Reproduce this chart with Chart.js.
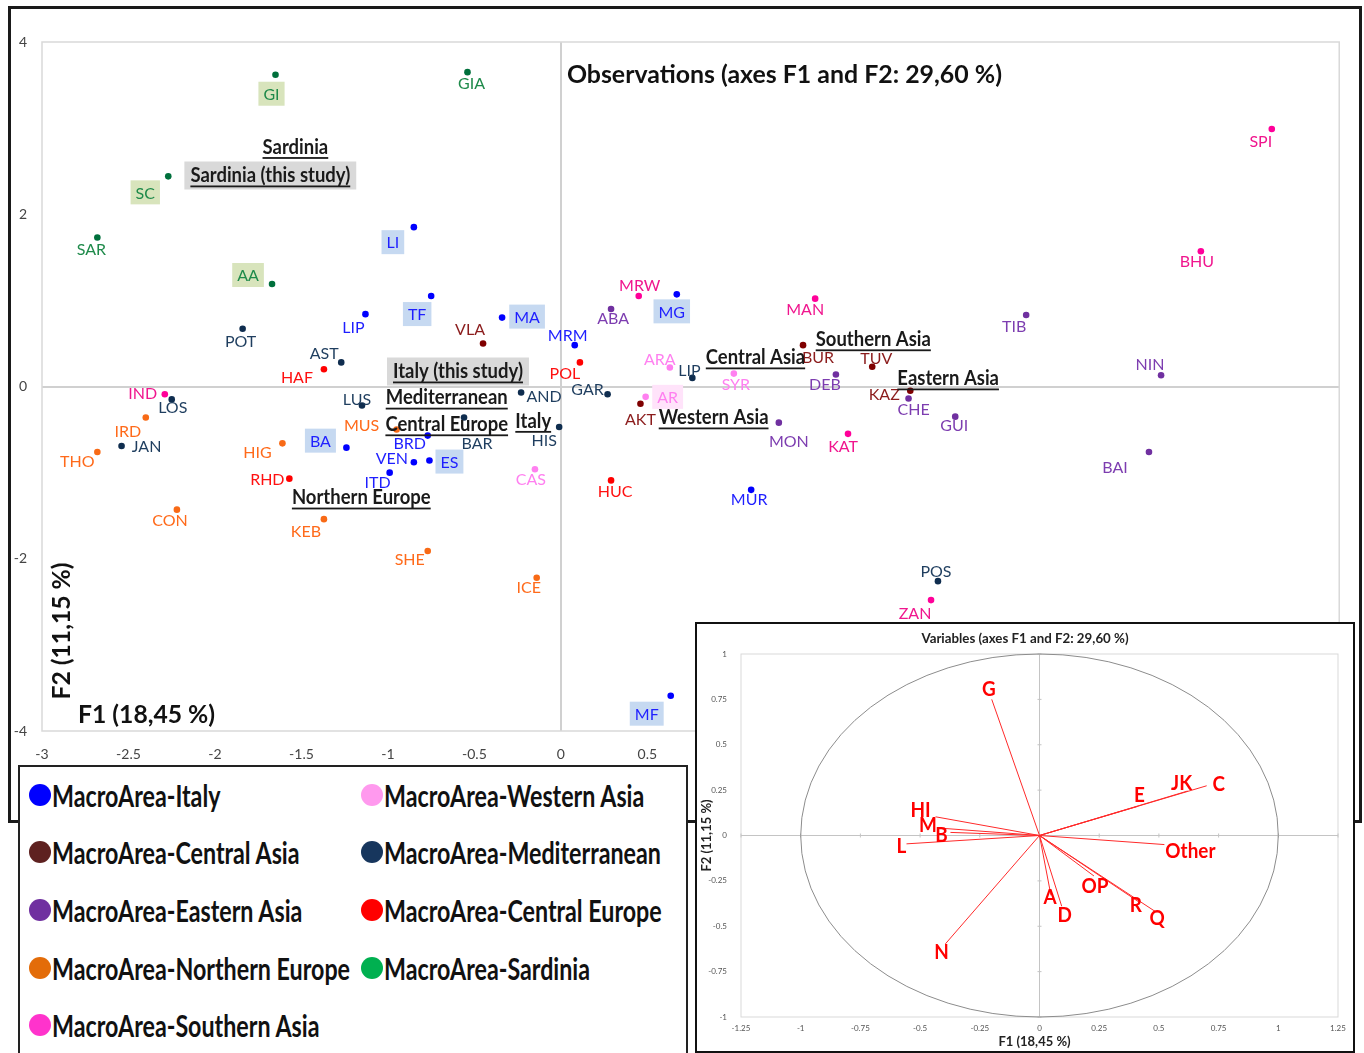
<!DOCTYPE html>
<html>
<head>
<meta charset="utf-8">
<script src="https://cdn.jsdelivr.net/npm/chart.js@4.4.1/dist/chart.umd.min.js"></script>
<style>
  body { margin: 0; background: #fff; width: 1364px; height: 1053px; overflow: hidden; position: relative; }
  #frame { position: absolute; left: 8px; top: 6px; width: 1354px; height: 817px; border: 3px solid #1a1a1a; box-sizing: border-box; }
  #mainChart { position: absolute; left: 0; top: 0; }
  #insetBox { position: absolute; left: 695px; top: 622px; width: 660px; height: 431px; border: 2px solid #111; background: #fff; box-sizing: border-box; }
  #insetChart { position: absolute; left: 697px; top: 624px; }
  #legend { position: absolute; left: 18px; top: 765px; width: 670px; height: 290px; border: 2px solid #222; background: #fff; box-sizing: border-box; }
  #legend .item { position: absolute; display: flex; align-items: center; height: 40px; white-space: nowrap; }
  #legend .dot { display: inline-block; width: 22px; height: 22px; border-radius: 50%; margin-right: 1px; flex: none; }
  #legend .txt { display: inline-block; font: bold 31px Lato, sans-serif; color: #111; transform-origin: left center; transform: scaleX(0.75); }
</style>
</head>
<body>
<div id="frame"></div>
<canvas id="mainChart" width="1364" height="800"></canvas>
<div id="insetBox"></div>
<canvas id="insetChart" width="656" height="426"></canvas>
<div id="legend"></div>

<script>
// groups (legend order)
const groups = ["Italy", "Central Asia", "Eastern Asia", "Northern Europe", "Southern Asia",
  "Western Asia", "Mediterranean", "Central Europe", "Sardinia"];

// observations
const sites = [
  "GI", "SC", "SAR", "AA", "GIA",
  "LI", "TF", "LIP", "MA", "MRM", "MG", "BA", "BRD", "VEN", "ES", "ITD", "MUR", "MF",
  "VLA", "BUR", "TUV", "KAZ", "AKT",
  "ABA", "TIB", "NIN", "DEB", "MON", "CHE", "GUI", "BAI",
  "IRD", "THO", "CON", "HIG", "KEB", "SHE", "MUS", "ICE",
  "IND", "MRW", "MAN", "SPI", "BHU", "KAT", "ZAN",
  "ARA", "AR", "SYR", "CAS",
  "POT", "AST", "LOS", "JAN", "LUS", "BAR", "AND", "HIS", "GAR", "LIP", "POS",
  "HAF", "RHD", "POL", "HUC"
];
const siteGroup = [
  "Sardinia", "Sardinia", "Sardinia", "Sardinia", "Sardinia",
  "Italy", "Italy", "Italy", "Italy", "Italy", "Italy", "Italy", "Italy", "Italy", "Italy", "Italy", "Italy", "Italy",
  "Central Asia", "Central Asia", "Central Asia", "Central Asia", "Central Asia",
  "Eastern Asia", "Eastern Asia", "Eastern Asia", "Eastern Asia", "Eastern Asia", "Eastern Asia", "Eastern Asia", "Eastern Asia",
  "Northern Europe", "Northern Europe", "Northern Europe", "Northern Europe", "Northern Europe", "Northern Europe", "Northern Europe", "Northern Europe",
  "Southern Asia", "Southern Asia", "Southern Asia", "Southern Asia", "Southern Asia", "Southern Asia", "Southern Asia",
  "Western Asia", "Western Asia", "Western Asia", "Western Asia",
  "Mediterranean", "Mediterranean", "Mediterranean", "Mediterranean", "Mediterranean", "Mediterranean", "Mediterranean", "Mediterranean", "Mediterranean", "Mediterranean", "Mediterranean",
  "Central Europe", "Central Europe", "Central Europe", "Central Europe"
];
const siteF1 = [
  -1.65, -2.27, -2.68, -1.67, -0.54,
  -0.85, -0.75, -1.13, -0.34, 0.08, 0.67, -1.24, -0.77, -0.85, -0.76, -0.99, 1.10, 0.635,
  -0.45, 1.40, 1.80, 2.02, 0.46,
  0.29, 2.69, 3.47, 1.59, 1.26, 2.01, 2.28, 3.40,
  -2.40, -2.68, -2.22, -1.61, -1.37, -0.77, -0.95, -0.14,
  -2.29, 0.45, 1.47, 4.11, 3.70, 1.66, 2.14,
  0.63, 0.49, 1.00, -0.15,
  -1.84, -1.27, -2.25, -2.54, -1.15, -0.56, -0.23, -0.01, 0.27, 0.76, 2.18,
  -1.37, -1.57, 0.11, 0.29
];
const siteF2 = [
  3.62, 2.44, 1.73, 1.19, 3.65,
  1.85, 1.05, 0.84, 0.80, 0.48, 1.07, -0.71, -0.57, -0.88, -0.86, -1.00, -1.20, -3.59,
  0.50, 0.48, 0.23, -0.05, -0.20,
  0.90, 0.83, 0.13, 0.14, -0.42, -0.14, -0.35, -0.76,
  -0.36, -0.76, -1.43, -0.66, -1.54, -1.91, -0.50, -2.22,
  -0.09, 1.05, 1.02, 2.99, 1.57, -0.55, -2.48,
  0.22, -0.12, 0.15, -0.96,
  0.67, 0.28, -0.15, -0.69, -0.22, -0.36, -0.07, -0.47, -0.09, 0.10, -2.26,
  0.20, -1.07, 0.28, -1.09
];

// variables (correlation circle)
const varNames = ["G", "C", "JK", "E", "HI", "M", "B", "L", "Other", "OP", "R", "Q", "A", "D", "N"];
const varF1 = [-0.20, 0.70, 0.62, 0.41, -0.435, -0.40, -0.373, -0.557, 0.523, 0.228, 0.416, 0.484, 0.048, 0.093, -0.394];
const varF2 = [0.75, 0.274, 0.245, 0.16, 0.103, 0.039, 0.017, -0.046, -0.05, -0.223, -0.366, -0.418, -0.33, -0.39, -0.597];

// ---- styling / layout ----
const dotColors = {
  "Italy": "#0000FF", "Central Asia": "#7F0000", "Eastern Asia": "#7030A0", "Northern Europe": "#F86A16",
  "Southern Asia": "#FF0099", "Western Asia": "#FF80F0", "Mediterranean": "#0F2D4F",
  "Central Europe": "#FF0000", "Sardinia": "#00703C"
};
const labelColors = {
  "Italy": "#1F1FFF", "Central Asia": "#8B1C1C", "Eastern Asia": "#7D3DB0", "Northern Europe": "#FF6A1A",
  "Southern Asia": "#F0168E", "Western Asia": "#FF80F0", "Mediterranean": "#1F3E5F",
  "Central Europe": "#FF1010", "Sardinia": "#1E8A4A"
};
const legendColors = ["#0000FF", "#5E2120", "#7030A0", "#E36C09", "#FF33CC", "#FF99EE", "#17365D", "#FF0000", "#00B050"];
const boxFill = { "GI": "#D8E4BC", "SC": "#D8E4BC", "AA": "#D8E4BC",
  "LI": "#C6D9F1", "TF": "#C6D9F1", "MA": "#C6D9F1", "MG": "#C6D9F1", "BA": "#C6D9F1", "ES": "#C6D9F1", "MF": "#C6D9F1",
  "AR": "#FFE3FA" };
// label centre offsets from the point, in px
const labelOffset = [
  [-4, 19], [-23, 16], [-6, 11], [-24, -9], [4, 11],
  [-21, 15], [-14, 18], [-12, 13], [25, -1], [-7, -10], [-5, 17], [-26, -7], [-18, 7], [-22, -4], [20, 1], [-12, 9], [-2, 9], [-24, 18],
  [-13, -15], [15, 12], [4, -9], [-26, 3], [0, 15],
  [2, 9], [-12, 11], [-11, -11], [-11, 9], [10, 18], [5, 10], [-1, 8], [-34, 15],
  [-18, 13], [-20, 9], [-7, 10], [-25, 9], [-18, 12], [-18, 8], [-35, -5], [-8, 9],
  [-22, -1], [1, -11], [-10, 10], [-11, 12], [-4, 10], [-5, 12], [-16, 13],
  [-10, -9], [22, 0], [2, 10], [-4, 10],
  [-2, 12], [-17, -10], [1, 7], [25, 0], [-5, -7], [13, 25], [23, 3], [-15, 13], [-20, -5], [-3, -8], [-2, -10],
  [-27, 8], [-22, 0], [-15, 10], [4, 10]
];
// region notes, anchored in data units
const notes = [
  { text: "Sardinia", x: -1.535, y: 2.78 },
  { text: "Sardinia (this study)", x: -1.68, y: 2.45, box: true },
  { text: "Italy (this study)", x: -0.595, y: 0.174, box: true },
  { text: "Mediterranean", x: -0.66, y: -0.13 },
  { text: "Central Europe", x: -0.66, y: -0.44 },
  { text: "Italy", x: -0.16, y: -0.40 },
  { text: "Northern Europe", x: -1.154, y: -1.29 },
  { text: "Central Asia", x: 1.125, y: 0.337 },
  { text: "Southern Asia", x: 1.806, y: 0.547 },
  { text: "Eastern Asia", x: 2.239, y: 0.093 },
  { text: "Western Asia", x: 0.883, y: -0.36 }
];
const varLabelOffset = [
  [-3, -10], [12, -2], [-6, -8], [2, -11], [-15, -7], [-16, -3], [-9, 3], [-5, 2],
  [26, 7], [1, 10], [-3, 3], [2, 7], [-1, 2], [3, 9], [-4, 8]
];

function fitFont(ctx, text, weight, family, targetW) {
  ctx.font = weight + " 20px " + family;
  const size = 20 * targetW / ctx.measureText(text).width;
  return weight + " " + size.toFixed(1) + "px " + family;
}
// condensed text: draw with a horizontal squeeze
function squeezeText(ctx, text, x, y, squeeze) {
  const w = ctx.measureText(text).width;
  ctx.fillText(text, x, y, w * squeeze);
  return w * squeeze;
}
const tickFmt = v => String(Number(v.toFixed(2)));

const mainDecor = {
  id: "mainDecor",
  beforeDatasetsDraw(chart) {
    const { ctx, chartArea: a } = chart;
    ctx.save();
    ctx.strokeStyle = "#D9D9D9";
    ctx.lineWidth = 1.5;
    ctx.strokeRect(a.left, a.top, a.right - a.left, a.bottom - a.top);
    ctx.restore();
  },
  afterDatasetsDraw(chart) {
    const { ctx, chartArea: a, scales: { x, y } } = chart;
    ctx.save();
    ctx.textAlign = "center";
    ctx.textBaseline = "middle";

    // point labels
    ctx.font = "16px Lato, sans-serif";
    sites.forEach((name, i) => {
      const px = x.getPixelForValue(siteF1[i]);
      const py = y.getPixelForValue(siteF2[i]);
      const lx = px + labelOffset[i][0];
      const ly = py + labelOffset[i][1];
      if (boxFill[name]) {
        const w = ctx.measureText(name).width + 10;
        ctx.fillStyle = boxFill[name];
        ctx.fillRect(lx - w / 2, ly - 12, w, 24);
      }
      ctx.fillStyle = labelColors[siteGroup[i]];
      ctx.fillText(name, lx, ly + 1);
    });

    // region notes
    ctx.font = "bold 21px Lato, sans-serif";
    notes.forEach(n => {
      const cx = x.getPixelForValue(n.x);
      const cy = y.getPixelForValue(n.y);
      const w = ctx.measureText(n.text).width * 0.88;
      if (n.box) {
        ctx.fillStyle = "#D9D9D9";
        ctx.fillRect(cx - w / 2 - 6, cy - 14, w + 12, 28);
      }
      ctx.fillStyle = "#1a1a1a";
      squeezeText(ctx, n.text, cx, cy, 0.88);
      ctx.fillRect(cx - w / 2, cy + 10, w, 1.8);
    });

    // title and axis captions inside the plot
    ctx.fillStyle = "#111";
    ctx.textAlign = "left";
    const title = "Observations (axes F1 and F2: 29,60 %)";
    ctx.font = fitFont(ctx, title, "bold", "Lato, sans-serif", 435);
    ctx.fillText(title, x.getPixelForValue(0) + 6, a.top + 33);
    const f1 = "F1 (18,45 %)";
    ctx.font = fitFont(ctx, f1, "bold", "Lato, sans-serif", 137);
    ctx.fillText(f1, a.left + 36, a.bottom - 16);
    const f2 = "F2 (11,15 %)";
    ctx.translate(a.left + 20, a.bottom - 100);
    ctx.rotate(-Math.PI / 2);
    ctx.textAlign = "center";
    ctx.font = fitFont(ctx, f2, "bold", "Lato, sans-serif", 137);
    ctx.fillText(f2, 0, 0);
    ctx.restore();
  }
};

const datasets = groups.map(g => ({
  label: "MacroArea-" + g,
  data: sites.map((s, i) => siteGroup[i] === g ? { x: siteF1[i], y: siteF2[i] } : null).filter(p => p),
  backgroundColor: dotColors[g],
  borderWidth: 0,
  pointRadius: 3.3
}));

const zeroGrid = {
  color: c => (c.tick && c.tick.value === 0) ? "#D0D0D0" : "rgba(0,0,0,0)",
  lineWidth: 2,
  drawTicks: false
};

new Chart(document.getElementById("mainChart"), {
  type: "scatter",
  data: { datasets },
  options: {
    responsive: false,
    animation: false,
    devicePixelRatio: 1,
    layout: { padding: { top: 42, right: 20, left: 0, bottom: 0 } },
    plugins: { legend: { display: false }, tooltip: { enabled: false } },
    scales: {
      x: {
        min: -3, max: 4.5,
        border: { display: false },
        grid: zeroGrid,
        ticks: { stepSize: 0.5, padding: 15, autoSkip: false, maxRotation: 0, color: "#444",
          font: { family: "Lato", size: 14 }, callback: tickFmt },
        afterFit(s) { s.height = 69; }
      },
      y: {
        min: -4, max: 4,
        border: { display: false },
        grid: zeroGrid,
        ticks: { stepSize: 2, padding: 15, color: "#444", font: { family: "Lato", size: 14 }, callback: tickFmt },
        afterFit(s) { s.width = 42; }
      }
    }
  },
  plugins: [mainDecor]
});

// ---- inset: correlation circle ----
const insetDecor = {
  id: "insetDecor",
  beforeDatasetsDraw(chart) {
    const { ctx, chartArea: a, scales: { x, y } } = chart;
    ctx.save();
    ctx.strokeStyle = "#D9D9D9";
    ctx.lineWidth = 1;
    ctx.strokeRect(a.left, a.top, a.right - a.left, a.bottom - a.top);
    const x0 = x.getPixelForValue(0), y0 = y.getPixelForValue(0);
    ctx.strokeStyle = "#C4C4C4";
    ctx.beginPath();
    ctx.moveTo(x0, a.top); ctx.lineTo(x0, a.bottom);
    ctx.moveTo(a.left, y0); ctx.lineTo(a.right, y0);
    x.ticks.forEach(t => {
      const p = x.getPixelForValue(t.value);
      ctx.moveTo(p, y0 - 2); ctx.lineTo(p, y0 + 2);
    });
    y.ticks.forEach(t => {
      const p = y.getPixelForValue(t.value);
      ctx.moveTo(x0 - 2, p); ctx.lineTo(x0 + 2, p);
    });
    ctx.stroke();
    // unit circle
    ctx.strokeStyle = "#8C8C8C";
    ctx.beginPath();
    ctx.ellipse(x0, y0, x.getPixelForValue(1) - x0, y0 - y.getPixelForValue(1), 0, 0, Math.PI * 2);
    ctx.stroke();
    ctx.restore();
  },
  afterDatasetsDraw(chart) {
    const { ctx, scales: { x, y } } = chart;
    ctx.save();
    ctx.textAlign = "center";
    ctx.textBaseline = "middle";
    ctx.fillStyle = "#FF0000";
    ctx.font = "bold 21px Lato, sans-serif";
    varNames.forEach((n, i) => {
      squeezeText(ctx, n, x.getPixelForValue(varF1[i]) + varLabelOffset[i][0],
        y.getPixelForValue(varF2[i]) + varLabelOffset[i][1], 0.9);
    });
    ctx.fillStyle = "#222";
    const t = "Variables (axes F1 and F2: 29,60 %)";
    ctx.font = fitFont(ctx, t, "bold", "Lato, sans-serif", 207);
    ctx.fillText(t, chart.width / 2, 15);
    const f1 = "F1 (18,45 %)";
    ctx.font = fitFont(ctx, f1, "bold", "Lato, sans-serif", 72);
    ctx.fillText(f1, x.getPixelForValue(0) - 5, chart.height - 8);
    const f2 = "F2 (11,15 %)";
    ctx.translate(10, y.getPixelForValue(0));
    ctx.rotate(-Math.PI / 2);
    ctx.fillText(f2, 0, 0);
    ctx.restore();
  }
};

new Chart(document.getElementById("insetChart"), {
  type: "scatter",
  data: {
    datasets: varNames.map((n, i) => ({
      label: n,
      data: [{ x: 0, y: 0 }, { x: varF1[i], y: varF2[i] }],
      showLine: true,
      borderColor: "#FF2A2A",
      borderWidth: 1,
      pointRadius: 0
    }))
  },
  options: {
    responsive: false,
    animation: false,
    devicePixelRatio: 1,
    layout: { padding: { top: 30, right: 15, left: 0, bottom: 0 } },
    plugins: { legend: { display: false }, tooltip: { enabled: false } },
    scales: {
      x: {
        min: -1.25, max: 1.25,
        border: { display: false },
        grid: { display: false, drawTicks: false },
        ticks: { stepSize: 0.25, padding: 7, autoSkip: false, maxRotation: 0, color: "#555",
          font: { family: "Lato", size: 8 }, callback: tickFmt },
        afterFit(s) { s.height = 33; }
      },
      y: {
        min: -1, max: 1,
        border: { display: false },
        grid: { display: false, drawTicks: false },
        ticks: { stepSize: 0.25, padding: 14, autoSkip: false, color: "#555",
          font: { family: "Lato", size: 8 }, callback: tickFmt },
        afterFit(s) { s.width = 44; }
      }
    }
  },
  plugins: [insetDecor]
});

// ---- legend box ----
const legendEl = document.getElementById("legend");
const rowCentres = [28, 85, 143, 201, 258];
groups.forEach((g, i) => {
  const col = Math.floor(i / 5), row = i % 5;
  const item = document.createElement("div");
  item.className = "item";
  item.style.left = (col ? 341 : 9) + "px";
  item.style.top = (rowCentres[row] - 20) + "px";
  item.innerHTML = '<span class="dot" style="background:' + legendColors[i] + '"></span><span class="txt">MacroArea-' + g + "</span>";
  legendEl.appendChild(item);
});
</script>
</body>
</html>
